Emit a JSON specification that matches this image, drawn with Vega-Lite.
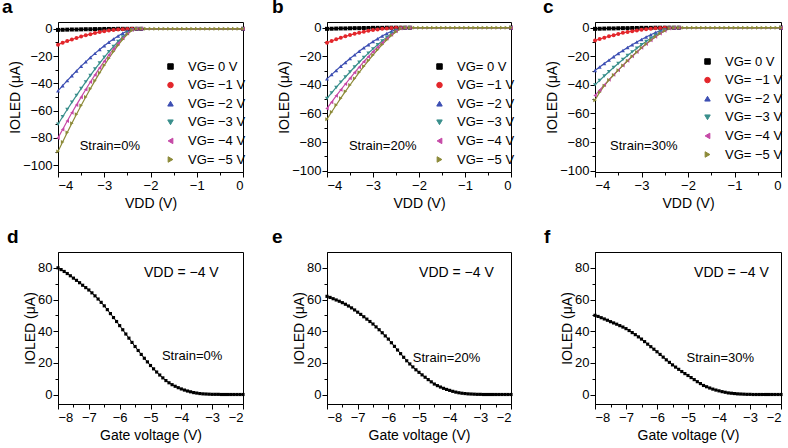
{
"$schema":"https://vega.github.io/schema/vega-lite/v6.json",
"background":"white",
"padding":{"left":1,"top":-3,"right":5,"bottom":3},
"config":{
 "font":"Liberation Sans",
 "view":{"stroke":"black","strokeWidth":1},
 "axis":{"grid":false,"domainColor":"black","tickColor":"black","labelColor":"black","titleColor":"black","labelFontSize":13,"titleFontSize":14,"titleFontWeight":"normal","tickSize":5,"labelPadding":2,"labelFont":"Liberation Sans","titleFont":"Liberation Sans","labelOverlap":false},
 "axisY":{"titlePadding":0,"labelPadding":1},
 "legend":{"labelFontSize":13,"labelFont":"Liberation Sans","labelColor":"black","symbolSize":30,"rowPadding":4.6,"labelOffset":11},
 "title":{"fontSize":19,"fontWeight":"bold","anchor":"start","frame":"group","font":"Liberation Sans","color":"black","offset":5,"baseline":"alphabetic"},
 "text":{"font":"Liberation Sans","fontSize":13,"color":"black"}
},
"datasets":{
"top":[
{"p":"a","g":0,"x":-4,"y":-0.8},{"p":"a","g":0,"x":-3.9,"y":-0.7},{"p":"a","g":0,"x":-3.8,"y":-0.6},{"p":"a","g":0,"x":-3.7,"y":-0.5},{"p":"a","g":0,"x":-3.6,"y":-0.5},{"p":"a","g":0,"x":-3.5,"y":-0.4},{"p":"a","g":0,"x":-3.4,"y":-0.3},{"p":"a","g":0,"x":-3.3,"y":-0.3},{"p":"a","g":0,"x":-3.2,"y":-0.2},{"p":"a","g":0,"x":-3.1,"y":-0.2},{"p":"a","g":0,"x":-3,"y":-0.1},{"p":"a","g":0,"x":-2.9,"y":-0.1},{"p":"a","g":0,"x":-2.8,"y":-0.1},{"p":"a","g":0,"x":-2.7,"y":0},{"p":"a","g":0,"x":-2.6,"y":0},{"p":"a","g":0,"x":-2.5,"y":0},{"p":"a","g":0,"x":-2.4,"y":0},{"p":"a","g":0,"x":-2.3,"y":0},{"p":"a","g":0,"x":-2.2,"y":0},{"p":"a","g":0,"x":0,"y":0},
{"p":"a","g":-1,"x":-4,"y":-11.6},{"p":"a","g":-1,"x":-3.9,"y":-10.2},{"p":"a","g":-1,"x":-3.8,"y":-9.0},{"p":"a","g":-1,"x":-3.7,"y":-7.8},{"p":"a","g":-1,"x":-3.6,"y":-6.7},{"p":"a","g":-1,"x":-3.5,"y":-5.6},{"p":"a","g":-1,"x":-3.4,"y":-4.7},{"p":"a","g":-1,"x":-3.3,"y":-3.9},{"p":"a","g":-1,"x":-3.2,"y":-3.1},{"p":"a","g":-1,"x":-3.1,"y":-2.4},{"p":"a","g":-1,"x":-3,"y":-1.8},{"p":"a","g":-1,"x":-2.9,"y":-1.3},{"p":"a","g":-1,"x":-2.8,"y":-0.9},{"p":"a","g":-1,"x":-2.7,"y":-0.5},{"p":"a","g":-1,"x":-2.6,"y":-0.3},{"p":"a","g":-1,"x":-2.5,"y":-0.1},{"p":"a","g":-1,"x":-2.4,"y":0},{"p":"a","g":-1,"x":-2.3,"y":0},{"p":"a","g":-1,"x":-2.2,"y":0},{"p":"a","g":-1,"x":0,"y":0},
{"p":"a","g":-2,"x":-4,"y":-45.5},{"p":"a","g":-2,"x":-3.9,"y":-41.7},{"p":"a","g":-2,"x":-3.8,"y":-38.0},{"p":"a","g":-2,"x":-3.7,"y":-34.4},{"p":"a","g":-2,"x":-3.6,"y":-30.9},{"p":"a","g":-2,"x":-3.5,"y":-27.4},{"p":"a","g":-2,"x":-3.4,"y":-24.2},{"p":"a","g":-2,"x":-3.3,"y":-21.0},{"p":"a","g":-2,"x":-3.2,"y":-18.0},{"p":"a","g":-2,"x":-3.1,"y":-15.1},{"p":"a","g":-2,"x":-3,"y":-12.4},{"p":"a","g":-2,"x":-2.9,"y":-9.8},{"p":"a","g":-2,"x":-2.8,"y":-7.4},{"p":"a","g":-2,"x":-2.7,"y":-5.2},{"p":"a","g":-2,"x":-2.6,"y":-3.2},{"p":"a","g":-2,"x":-2.5,"y":-1.6},{"p":"a","g":-2,"x":-2.4,"y":-0.4},{"p":"a","g":-2,"x":-2.3,"y":0},{"p":"a","g":-2,"x":-2.2,"y":0},{"p":"a","g":-2,"x":0,"y":0},
{"p":"a","g":-3,"x":-4,"y":-70},{"p":"a","g":-3,"x":-3.9,"y":-64.5},{"p":"a","g":-3,"x":-3.8,"y":-59.2},{"p":"a","g":-3,"x":-3.7,"y":-53.9},{"p":"a","g":-3,"x":-3.6,"y":-48.8},{"p":"a","g":-3,"x":-3.5,"y":-43.8},{"p":"a","g":-3,"x":-3.4,"y":-38.9},{"p":"a","g":-3,"x":-3.3,"y":-34.2},{"p":"a","g":-3,"x":-3.2,"y":-29.5},{"p":"a","g":-3,"x":-3.1,"y":-25.1},{"p":"a","g":-3,"x":-3,"y":-20.9},{"p":"a","g":-3,"x":-2.9,"y":-16.8},{"p":"a","g":-3,"x":-2.8,"y":-13.0},{"p":"a","g":-3,"x":-2.7,"y":-9.3},{"p":"a","g":-3,"x":-2.6,"y":-6.0},{"p":"a","g":-3,"x":-2.5,"y":-3.1},{"p":"a","g":-3,"x":-2.4,"y":-0.8},{"p":"a","g":-3,"x":-2.3,"y":0},{"p":"a","g":-3,"x":-2.2,"y":0},{"p":"a","g":-3,"x":0,"y":0},
{"p":"a","g":-4,"x":-4,"y":-80},{"p":"a","g":-4,"x":-3.9,"y":-73.8},{"p":"a","g":-4,"x":-3.8,"y":-67.6},{"p":"a","g":-4,"x":-3.7,"y":-61.6},{"p":"a","g":-4,"x":-3.6,"y":-55.8},{"p":"a","g":-4,"x":-3.5,"y":-50.1},{"p":"a","g":-4,"x":-3.4,"y":-44.5},{"p":"a","g":-4,"x":-3.3,"y":-39.0},{"p":"a","g":-4,"x":-3.2,"y":-33.8},{"p":"a","g":-4,"x":-3.1,"y":-28.7},{"p":"a","g":-4,"x":-3,"y":-23.8},{"p":"a","g":-4,"x":-2.9,"y":-19.2},{"p":"a","g":-4,"x":-2.8,"y":-14.8},{"p":"a","g":-4,"x":-2.7,"y":-10.6},{"p":"a","g":-4,"x":-2.6,"y":-6.9},{"p":"a","g":-4,"x":-2.5,"y":-3.5},{"p":"a","g":-4,"x":-2.4,"y":-0.9},{"p":"a","g":-4,"x":-2.3,"y":0},{"p":"a","g":-4,"x":-2.2,"y":0},{"p":"a","g":-4,"x":0,"y":0},
{"p":"a","g":-5,"x":-4,"y":-90},{"p":"a","g":-5,"x":-3.9,"y":-83.0},{"p":"a","g":-5,"x":-3.8,"y":-76.1},{"p":"a","g":-5,"x":-3.7,"y":-69.3},{"p":"a","g":-5,"x":-3.6,"y":-62.7},{"p":"a","g":-5,"x":-3.5,"y":-56.3},{"p":"a","g":-5,"x":-3.4,"y":-50.0},{"p":"a","g":-5,"x":-3.3,"y":-43.9},{"p":"a","g":-5,"x":-3.2,"y":-38.0},{"p":"a","g":-5,"x":-3.1,"y":-32.3},{"p":"a","g":-5,"x":-3,"y":-26.8},{"p":"a","g":-5,"x":-2.9,"y":-21.6},{"p":"a","g":-5,"x":-2.8,"y":-16.7},{"p":"a","g":-5,"x":-2.7,"y":-12.0},{"p":"a","g":-5,"x":-2.6,"y":-7.7},{"p":"a","g":-5,"x":-2.5,"y":-4.0},{"p":"a","g":-5,"x":-2.4,"y":-1.0},{"p":"a","g":-5,"x":-2.3,"y":0},{"p":"a","g":-5,"x":-2.2,"y":0},{"p":"a","g":-5,"x":-2.1,"y":0},{"p":"a","g":-5,"x":-2,"y":0},{"p":"a","g":-5,"x":-1.9,"y":0},{"p":"a","g":-5,"x":-1.8,"y":0},{"p":"a","g":-5,"x":-1.7,"y":0},{"p":"a","g":-5,"x":-1.6,"y":0},{"p":"a","g":-5,"x":-1.5,"y":0},{"p":"a","g":-5,"x":-1.4,"y":0},{"p":"a","g":-5,"x":-1.3,"y":0},{"p":"a","g":-5,"x":-1.2,"y":0},{"p":"a","g":-5,"x":-1.1,"y":0},{"p":"a","g":-5,"x":-1,"y":0},{"p":"a","g":-5,"x":-0.9,"y":0},{"p":"a","g":-5,"x":-0.8,"y":0},{"p":"a","g":-5,"x":-0.7,"y":0},{"p":"a","g":-5,"x":-0.6,"y":0},{"p":"a","g":-5,"x":-0.5,"y":0},{"p":"a","g":-5,"x":-0.4,"y":0},{"p":"a","g":-5,"x":-0.3,"y":0},{"p":"a","g":-5,"x":-0.2,"y":0},{"p":"a","g":-5,"x":-0.1,"y":0},{"p":"a","g":-5,"x":0,"y":0},
{"p":"b","g":0,"x":-4,"y":-0.8},{"p":"b","g":0,"x":-3.9,"y":-0.7},{"p":"b","g":0,"x":-3.8,"y":-0.6},{"p":"b","g":0,"x":-3.7,"y":-0.5},{"p":"b","g":0,"x":-3.6,"y":-0.5},{"p":"b","g":0,"x":-3.5,"y":-0.4},{"p":"b","g":0,"x":-3.4,"y":-0.3},{"p":"b","g":0,"x":-3.3,"y":-0.3},{"p":"b","g":0,"x":-3.2,"y":-0.2},{"p":"b","g":0,"x":-3.1,"y":-0.2},{"p":"b","g":0,"x":-3,"y":-0.1},{"p":"b","g":0,"x":-2.9,"y":-0.1},{"p":"b","g":0,"x":-2.8,"y":-0.1},{"p":"b","g":0,"x":-2.7,"y":0},{"p":"b","g":0,"x":-2.6,"y":0},{"p":"b","g":0,"x":-2.5,"y":0},{"p":"b","g":0,"x":-2.4,"y":0},{"p":"b","g":0,"x":-2.3,"y":0},{"p":"b","g":0,"x":-2.2,"y":0},{"p":"b","g":0,"x":0,"y":0},
{"p":"b","g":-1,"x":-4,"y":-10.5},{"p":"b","g":-1,"x":-3.9,"y":-9.3},{"p":"b","g":-1,"x":-3.8,"y":-8.1},{"p":"b","g":-1,"x":-3.7,"y":-7.0},{"p":"b","g":-1,"x":-3.6,"y":-6.0},{"p":"b","g":-1,"x":-3.5,"y":-5.1},{"p":"b","g":-1,"x":-3.4,"y":-4.3},{"p":"b","g":-1,"x":-3.3,"y":-3.5},{"p":"b","g":-1,"x":-3.2,"y":-2.8},{"p":"b","g":-1,"x":-3.1,"y":-2.2},{"p":"b","g":-1,"x":-3,"y":-1.6},{"p":"b","g":-1,"x":-2.9,"y":-1.2},{"p":"b","g":-1,"x":-2.8,"y":-0.8},{"p":"b","g":-1,"x":-2.7,"y":-0.5},{"p":"b","g":-1,"x":-2.6,"y":-0.2},{"p":"b","g":-1,"x":-2.5,"y":-0.1},{"p":"b","g":-1,"x":-2.4,"y":0},{"p":"b","g":-1,"x":-2.3,"y":0},{"p":"b","g":-1,"x":-2.2,"y":0},{"p":"b","g":-1,"x":0,"y":0},
{"p":"b","g":-2,"x":-4,"y":-35.8},{"p":"b","g":-2,"x":-3.9,"y":-32.8},{"p":"b","g":-2,"x":-3.8,"y":-29.9},{"p":"b","g":-2,"x":-3.7,"y":-27.0},{"p":"b","g":-2,"x":-3.6,"y":-24.3},{"p":"b","g":-2,"x":-3.5,"y":-21.6},{"p":"b","g":-2,"x":-3.4,"y":-19.0},{"p":"b","g":-2,"x":-3.3,"y":-16.5},{"p":"b","g":-2,"x":-3.2,"y":-14.1},{"p":"b","g":-2,"x":-3.1,"y":-11.9},{"p":"b","g":-2,"x":-3,"y":-9.7},{"p":"b","g":-2,"x":-2.9,"y":-7.7},{"p":"b","g":-2,"x":-2.8,"y":-5.8},{"p":"b","g":-2,"x":-2.7,"y":-4.1},{"p":"b","g":-2,"x":-2.6,"y":-2.5},{"p":"b","g":-2,"x":-2.5,"y":-1.3},{"p":"b","g":-2,"x":-2.4,"y":-0.3},{"p":"b","g":-2,"x":-2.3,"y":0},{"p":"b","g":-2,"x":-2.2,"y":0},{"p":"b","g":-2,"x":0,"y":0},
{"p":"b","g":-3,"x":-4,"y":-49.5},{"p":"b","g":-3,"x":-3.9,"y":-45.6},{"p":"b","g":-3,"x":-3.8,"y":-41.8},{"p":"b","g":-3,"x":-3.7,"y":-38.1},{"p":"b","g":-3,"x":-3.6,"y":-34.5},{"p":"b","g":-3,"x":-3.5,"y":-31.0},{"p":"b","g":-3,"x":-3.4,"y":-27.5},{"p":"b","g":-3,"x":-3.3,"y":-24.2},{"p":"b","g":-3,"x":-3.2,"y":-20.9},{"p":"b","g":-3,"x":-3.1,"y":-17.8},{"p":"b","g":-3,"x":-3,"y":-14.8},{"p":"b","g":-3,"x":-2.9,"y":-11.9},{"p":"b","g":-3,"x":-2.8,"y":-9.2},{"p":"b","g":-3,"x":-2.7,"y":-6.6},{"p":"b","g":-3,"x":-2.6,"y":-4.3},{"p":"b","g":-3,"x":-2.5,"y":-2.2},{"p":"b","g":-3,"x":-2.4,"y":-0.5},{"p":"b","g":-3,"x":-2.3,"y":0},{"p":"b","g":-3,"x":-2.2,"y":0},{"p":"b","g":-3,"x":0,"y":0},
{"p":"b","g":-4,"x":-4,"y":-56.5},{"p":"b","g":-4,"x":-3.9,"y":-52.1},{"p":"b","g":-4,"x":-3.8,"y":-47.7},{"p":"b","g":-4,"x":-3.7,"y":-43.5},{"p":"b","g":-4,"x":-3.6,"y":-39.4},{"p":"b","g":-4,"x":-3.5,"y":-35.4},{"p":"b","g":-4,"x":-3.4,"y":-31.4},{"p":"b","g":-4,"x":-3.3,"y":-27.6},{"p":"b","g":-4,"x":-3.2,"y":-23.8},{"p":"b","g":-4,"x":-3.1,"y":-20.3},{"p":"b","g":-4,"x":-3,"y":-16.8},{"p":"b","g":-4,"x":-2.9,"y":-13.6},{"p":"b","g":-4,"x":-2.8,"y":-10.5},{"p":"b","g":-4,"x":-2.7,"y":-7.5},{"p":"b","g":-4,"x":-2.6,"y":-4.9},{"p":"b","g":-4,"x":-2.5,"y":-2.5},{"p":"b","g":-4,"x":-2.4,"y":-0.6},{"p":"b","g":-4,"x":-2.3,"y":0},{"p":"b","g":-4,"x":-2.2,"y":0},{"p":"b","g":-4,"x":0,"y":0},
{"p":"b","g":-5,"x":-4,"y":-64},{"p":"b","g":-5,"x":-3.9,"y":-59.0},{"p":"b","g":-5,"x":-3.8,"y":-54.1},{"p":"b","g":-5,"x":-3.7,"y":-49.3},{"p":"b","g":-5,"x":-3.6,"y":-44.6},{"p":"b","g":-5,"x":-3.5,"y":-40.1},{"p":"b","g":-5,"x":-3.4,"y":-35.6},{"p":"b","g":-5,"x":-3.3,"y":-31.2},{"p":"b","g":-5,"x":-3.2,"y":-27.0},{"p":"b","g":-5,"x":-3.1,"y":-23.0},{"p":"b","g":-5,"x":-3,"y":-19.1},{"p":"b","g":-5,"x":-2.9,"y":-15.4},{"p":"b","g":-5,"x":-2.8,"y":-11.8},{"p":"b","g":-5,"x":-2.7,"y":-8.5},{"p":"b","g":-5,"x":-2.6,"y":-5.5},{"p":"b","g":-5,"x":-2.5,"y":-2.8},{"p":"b","g":-5,"x":-2.4,"y":-0.7},{"p":"b","g":-5,"x":-2.3,"y":0},{"p":"b","g":-5,"x":-2.2,"y":0},{"p":"b","g":-5,"x":-2.1,"y":0},{"p":"b","g":-5,"x":-2,"y":0},{"p":"b","g":-5,"x":-1.9,"y":0},{"p":"b","g":-5,"x":-1.8,"y":0},{"p":"b","g":-5,"x":-1.7,"y":0},{"p":"b","g":-5,"x":-1.6,"y":0},{"p":"b","g":-5,"x":-1.5,"y":0},{"p":"b","g":-5,"x":-1.4,"y":0},{"p":"b","g":-5,"x":-1.3,"y":0},{"p":"b","g":-5,"x":-1.2,"y":0},{"p":"b","g":-5,"x":-1.1,"y":0},{"p":"b","g":-5,"x":-1,"y":0},{"p":"b","g":-5,"x":-0.9,"y":0},{"p":"b","g":-5,"x":-0.8,"y":0},{"p":"b","g":-5,"x":-0.7,"y":0},{"p":"b","g":-5,"x":-0.6,"y":0},{"p":"b","g":-5,"x":-0.5,"y":0},{"p":"b","g":-5,"x":-0.4,"y":0},{"p":"b","g":-5,"x":-0.3,"y":0},{"p":"b","g":-5,"x":-0.2,"y":0},{"p":"b","g":-5,"x":-0.1,"y":0},{"p":"b","g":-5,"x":0,"y":0},
{"p":"c","g":0,"x":-4,"y":-0.8},{"p":"c","g":0,"x":-3.9,"y":-0.7},{"p":"c","g":0,"x":-3.8,"y":-0.6},{"p":"c","g":0,"x":-3.7,"y":-0.5},{"p":"c","g":0,"x":-3.6,"y":-0.5},{"p":"c","g":0,"x":-3.5,"y":-0.4},{"p":"c","g":0,"x":-3.4,"y":-0.3},{"p":"c","g":0,"x":-3.3,"y":-0.3},{"p":"c","g":0,"x":-3.2,"y":-0.2},{"p":"c","g":0,"x":-3.1,"y":-0.2},{"p":"c","g":0,"x":-3,"y":-0.1},{"p":"c","g":0,"x":-2.9,"y":-0.1},{"p":"c","g":0,"x":-2.8,"y":-0.1},{"p":"c","g":0,"x":-2.7,"y":0},{"p":"c","g":0,"x":-2.6,"y":0},{"p":"c","g":0,"x":-2.5,"y":0},{"p":"c","g":0,"x":-2.4,"y":0},{"p":"c","g":0,"x":-2.3,"y":0},{"p":"c","g":0,"x":-2.2,"y":0},{"p":"c","g":0,"x":0,"y":0},
{"p":"c","g":-1,"x":-4,"y":-9.0},{"p":"c","g":-1,"x":-3.9,"y":-7.9},{"p":"c","g":-1,"x":-3.8,"y":-7.0},{"p":"c","g":-1,"x":-3.7,"y":-6.0},{"p":"c","g":-1,"x":-3.6,"y":-5.2},{"p":"c","g":-1,"x":-3.5,"y":-4.4},{"p":"c","g":-1,"x":-3.4,"y":-3.6},{"p":"c","g":-1,"x":-3.3,"y":-3.0},{"p":"c","g":-1,"x":-3.2,"y":-2.4},{"p":"c","g":-1,"x":-3.1,"y":-1.9},{"p":"c","g":-1,"x":-3,"y":-1.4},{"p":"c","g":-1,"x":-2.9,"y":-1.0},{"p":"c","g":-1,"x":-2.8,"y":-0.7},{"p":"c","g":-1,"x":-2.7,"y":-0.4},{"p":"c","g":-1,"x":-2.6,"y":-0.2},{"p":"c","g":-1,"x":-2.5,"y":-0.1},{"p":"c","g":-1,"x":-2.4,"y":0},{"p":"c","g":-1,"x":-2.3,"y":0},{"p":"c","g":-1,"x":-2.2,"y":0},{"p":"c","g":-1,"x":0,"y":0},
{"p":"c","g":-2,"x":-4,"y":-30},{"p":"c","g":-2,"x":-3.9,"y":-27.5},{"p":"c","g":-2,"x":-3.8,"y":-25.1},{"p":"c","g":-2,"x":-3.7,"y":-22.7},{"p":"c","g":-2,"x":-3.6,"y":-20.3},{"p":"c","g":-2,"x":-3.5,"y":-18.1},{"p":"c","g":-2,"x":-3.4,"y":-15.9},{"p":"c","g":-2,"x":-3.3,"y":-13.9},{"p":"c","g":-2,"x":-3.2,"y":-11.9},{"p":"c","g":-2,"x":-3.1,"y":-10.0},{"p":"c","g":-2,"x":-3,"y":-8.2},{"p":"c","g":-2,"x":-2.9,"y":-6.5},{"p":"c","g":-2,"x":-2.8,"y":-4.9},{"p":"c","g":-2,"x":-2.7,"y":-3.4},{"p":"c","g":-2,"x":-2.6,"y":-2.1},{"p":"c","g":-2,"x":-2.5,"y":-1.1},{"p":"c","g":-2,"x":-2.4,"y":-0.2},{"p":"c","g":-2,"x":-2.3,"y":0},{"p":"c","g":-2,"x":-2.2,"y":0},{"p":"c","g":-2,"x":0,"y":0},
{"p":"c","g":-3,"x":-4,"y":-40},{"p":"c","g":-3,"x":-3.9,"y":-36.9},{"p":"c","g":-3,"x":-3.8,"y":-33.8},{"p":"c","g":-3,"x":-3.7,"y":-30.8},{"p":"c","g":-3,"x":-3.6,"y":-27.9},{"p":"c","g":-3,"x":-3.5,"y":-25.0},{"p":"c","g":-3,"x":-3.4,"y":-22.2},{"p":"c","g":-3,"x":-3.3,"y":-19.5},{"p":"c","g":-3,"x":-3.2,"y":-16.9},{"p":"c","g":-3,"x":-3.1,"y":-14.4},{"p":"c","g":-3,"x":-3,"y":-11.9},{"p":"c","g":-3,"x":-2.9,"y":-9.6},{"p":"c","g":-3,"x":-2.8,"y":-7.4},{"p":"c","g":-3,"x":-2.7,"y":-5.3},{"p":"c","g":-3,"x":-2.6,"y":-3.4},{"p":"c","g":-3,"x":-2.5,"y":-1.8},{"p":"c","g":-3,"x":-2.4,"y":-0.4},{"p":"c","g":-3,"x":-2.3,"y":0},{"p":"c","g":-3,"x":-2.2,"y":0},{"p":"c","g":-3,"x":0,"y":0},
{"p":"c","g":-4,"x":-4,"y":-47.4},{"p":"c","g":-4,"x":-3.9,"y":-43.7},{"p":"c","g":-4,"x":-3.8,"y":-40.1},{"p":"c","g":-4,"x":-3.7,"y":-36.5},{"p":"c","g":-4,"x":-3.6,"y":-33.0},{"p":"c","g":-4,"x":-3.5,"y":-29.7},{"p":"c","g":-4,"x":-3.4,"y":-26.4},{"p":"c","g":-4,"x":-3.3,"y":-23.1},{"p":"c","g":-4,"x":-3.2,"y":-20.0},{"p":"c","g":-4,"x":-3.1,"y":-17.0},{"p":"c","g":-4,"x":-3,"y":-14.1},{"p":"c","g":-4,"x":-2.9,"y":-11.4},{"p":"c","g":-4,"x":-2.8,"y":-8.8},{"p":"c","g":-4,"x":-2.7,"y":-6.3},{"p":"c","g":-4,"x":-2.6,"y":-4.1},{"p":"c","g":-4,"x":-2.5,"y":-2.1},{"p":"c","g":-4,"x":-2.4,"y":-0.5},{"p":"c","g":-4,"x":-2.3,"y":0},{"p":"c","g":-4,"x":-2.2,"y":0},{"p":"c","g":-4,"x":0,"y":0},
{"p":"c","g":-5,"x":-4,"y":-50.7},{"p":"c","g":-5,"x":-3.9,"y":-45.2},{"p":"c","g":-5,"x":-3.8,"y":-40.6},{"p":"c","g":-5,"x":-3.7,"y":-36.6},{"p":"c","g":-5,"x":-3.6,"y":-33.1},{"p":"c","g":-5,"x":-3.5,"y":-29.7},{"p":"c","g":-5,"x":-3.4,"y":-26.4},{"p":"c","g":-5,"x":-3.3,"y":-23.1},{"p":"c","g":-5,"x":-3.2,"y":-20.0},{"p":"c","g":-5,"x":-3.1,"y":-17.0},{"p":"c","g":-5,"x":-3,"y":-14.1},{"p":"c","g":-5,"x":-2.9,"y":-11.4},{"p":"c","g":-5,"x":-2.8,"y":-8.8},{"p":"c","g":-5,"x":-2.7,"y":-6.3},{"p":"c","g":-5,"x":-2.6,"y":-4.1},{"p":"c","g":-5,"x":-2.5,"y":-2.1},{"p":"c","g":-5,"x":-2.4,"y":-0.5},{"p":"c","g":-5,"x":-2.3,"y":0},{"p":"c","g":-5,"x":-2.2,"y":0},{"p":"c","g":-5,"x":-2.1,"y":0},{"p":"c","g":-5,"x":-2,"y":0},{"p":"c","g":-5,"x":-1.9,"y":0},{"p":"c","g":-5,"x":-1.8,"y":0},{"p":"c","g":-5,"x":-1.7,"y":0},{"p":"c","g":-5,"x":-1.6,"y":0},{"p":"c","g":-5,"x":-1.5,"y":0},{"p":"c","g":-5,"x":-1.4,"y":0},{"p":"c","g":-5,"x":-1.3,"y":0},{"p":"c","g":-5,"x":-1.2,"y":0},{"p":"c","g":-5,"x":-1.1,"y":0},{"p":"c","g":-5,"x":-1,"y":0},{"p":"c","g":-5,"x":-0.9,"y":0},{"p":"c","g":-5,"x":-0.8,"y":0},{"p":"c","g":-5,"x":-0.7,"y":0},{"p":"c","g":-5,"x":-0.6,"y":0},{"p":"c","g":-5,"x":-0.5,"y":0},{"p":"c","g":-5,"x":-0.4,"y":0},{"p":"c","g":-5,"x":-0.3,"y":0},{"p":"c","g":-5,"x":-0.2,"y":0},{"p":"c","g":-5,"x":-0.1,"y":0},{"p":"c","g":-5,"x":0,"y":0}
],
"bot":[
{"p":"d","x":-8,"y":80},{"p":"d","x":-7.9,"y":78.9},{"p":"d","x":-7.8,"y":77.7},{"p":"d","x":-7.7,"y":76.4},{"p":"d","x":-7.6,"y":75.0},{"p":"d","x":-7.5,"y":73.5},{"p":"d","x":-7.4,"y":72.1},{"p":"d","x":-7.3,"y":70.6},{"p":"d","x":-7.2,"y":69.0},{"p":"d","x":-7.1,"y":67.5},{"p":"d","x":-7,"y":66.0},{"p":"d","x":-6.9,"y":64.2},{"p":"d","x":-6.8,"y":62.3},{"p":"d","x":-6.7,"y":60.3},{"p":"d","x":-6.6,"y":58.2},{"p":"d","x":-6.5,"y":56.0},{"p":"d","x":-6.4,"y":53.6},{"p":"d","x":-6.3,"y":51.1},{"p":"d","x":-6.2,"y":48.6},{"p":"d","x":-6.1,"y":46.1},{"p":"d","x":-6,"y":43.5},{"p":"d","x":-5.9,"y":40.9},{"p":"d","x":-5.8,"y":38.2},{"p":"d","x":-5.7,"y":35.6},{"p":"d","x":-5.6,"y":32.9},{"p":"d","x":-5.5,"y":30.3},{"p":"d","x":-5.4,"y":27.8},{"p":"d","x":-5.3,"y":25.3},{"p":"d","x":-5.2,"y":22.9},{"p":"d","x":-5.1,"y":20.6},{"p":"d","x":-5,"y":18.3},{"p":"d","x":-4.9,"y":16.2},{"p":"d","x":-4.8,"y":14.2},{"p":"d","x":-4.7,"y":12.3},{"p":"d","x":-4.6,"y":10.5},{"p":"d","x":-4.5,"y":8.8},{"p":"d","x":-4.4,"y":7.4},{"p":"d","x":-4.3,"y":6.2},{"p":"d","x":-4.2,"y":5.2},{"p":"d","x":-4.1,"y":4.3},{"p":"d","x":-4,"y":3.5},{"p":"d","x":-3.9,"y":2.8},{"p":"d","x":-3.8,"y":2.2},{"p":"d","x":-3.7,"y":1.7},{"p":"d","x":-3.6,"y":1.2},{"p":"d","x":-3.5,"y":0.9},{"p":"d","x":-3.4,"y":0.6},{"p":"d","x":-3.3,"y":0.4},{"p":"d","x":-3.2,"y":0.3},{"p":"d","x":-3.1,"y":0.2},{"p":"d","x":-3,"y":0.1},{"p":"d","x":-2.9,"y":0.1},{"p":"d","x":-2.8,"y":0.1},{"p":"d","x":-2.7,"y":0},{"p":"d","x":-2.6,"y":0},{"p":"d","x":-2.5,"y":0},{"p":"d","x":-2.4,"y":0},{"p":"d","x":-2.3,"y":0},{"p":"d","x":-2.2,"y":0},{"p":"d","x":-2.1,"y":0},{"p":"d","x":-2,"y":0},
{"p":"e","x":-8,"y":62.0},{"p":"e","x":-7.9,"y":61.3},{"p":"e","x":-7.8,"y":60.5},{"p":"e","x":-7.7,"y":59.7},{"p":"e","x":-7.6,"y":58.9},{"p":"e","x":-7.5,"y":58.0},{"p":"e","x":-7.4,"y":57.0},{"p":"e","x":-7.3,"y":55.9},{"p":"e","x":-7.2,"y":54.7},{"p":"e","x":-7.1,"y":53.4},{"p":"e","x":-7,"y":52.0},{"p":"e","x":-6.9,"y":50.6},{"p":"e","x":-6.8,"y":49.1},{"p":"e","x":-6.7,"y":47.6},{"p":"e","x":-6.6,"y":46.1},{"p":"e","x":-6.5,"y":44.5},{"p":"e","x":-6.4,"y":42.7},{"p":"e","x":-6.3,"y":40.9},{"p":"e","x":-6.2,"y":39.0},{"p":"e","x":-6.1,"y":37.0},{"p":"e","x":-6,"y":35.0},{"p":"e","x":-5.9,"y":32.7},{"p":"e","x":-5.8,"y":30.4},{"p":"e","x":-5.7,"y":28.1},{"p":"e","x":-5.6,"y":25.8},{"p":"e","x":-5.5,"y":23.5},{"p":"e","x":-5.4,"y":21.3},{"p":"e","x":-5.3,"y":19.3},{"p":"e","x":-5.2,"y":17.4},{"p":"e","x":-5.1,"y":15.6},{"p":"e","x":-5,"y":14.0},{"p":"e","x":-4.9,"y":12.4},{"p":"e","x":-4.8,"y":10.9},{"p":"e","x":-4.7,"y":9.4},{"p":"e","x":-4.6,"y":8.0},{"p":"e","x":-4.5,"y":6.6},{"p":"e","x":-4.4,"y":5.6},{"p":"e","x":-4.3,"y":4.7},{"p":"e","x":-4.2,"y":3.9},{"p":"e","x":-4.1,"y":3.2},{"p":"e","x":-4,"y":2.6},{"p":"e","x":-3.9,"y":2.0},{"p":"e","x":-3.8,"y":1.5},{"p":"e","x":-3.7,"y":1.1},{"p":"e","x":-3.6,"y":0.8},{"p":"e","x":-3.5,"y":0.6},{"p":"e","x":-3.4,"y":0.4},{"p":"e","x":-3.3,"y":0.3},{"p":"e","x":-3.2,"y":0.2},{"p":"e","x":-3.1,"y":0.1},{"p":"e","x":-3,"y":0.1},{"p":"e","x":-2.9,"y":0},{"p":"e","x":-2.8,"y":0},{"p":"e","x":-2.7,"y":0},{"p":"e","x":-2.6,"y":0},{"p":"e","x":-2.5,"y":0},{"p":"e","x":-2.4,"y":0},{"p":"e","x":-2.3,"y":0},{"p":"e","x":-2.2,"y":0},{"p":"e","x":-2.1,"y":0},{"p":"e","x":-2,"y":0},
{"p":"f","x":-8,"y":50.0},{"p":"f","x":-7.9,"y":49.3},{"p":"f","x":-7.8,"y":48.5},{"p":"f","x":-7.7,"y":47.7},{"p":"f","x":-7.6,"y":46.9},{"p":"f","x":-7.5,"y":46.0},{"p":"f","x":-7.4,"y":45.2},{"p":"f","x":-7.3,"y":44.4},{"p":"f","x":-7.2,"y":43.5},{"p":"f","x":-7.1,"y":42.6},{"p":"f","x":-7,"y":41.6},{"p":"f","x":-6.9,"y":40.4},{"p":"f","x":-6.8,"y":39.1},{"p":"f","x":-6.7,"y":37.8},{"p":"f","x":-6.6,"y":36.4},{"p":"f","x":-6.5,"y":35.0},{"p":"f","x":-6.4,"y":33.4},{"p":"f","x":-6.3,"y":31.8},{"p":"f","x":-6.2,"y":30.2},{"p":"f","x":-6.1,"y":28.6},{"p":"f","x":-6,"y":27.0},{"p":"f","x":-5.9,"y":25.3},{"p":"f","x":-5.8,"y":23.6},{"p":"f","x":-5.7,"y":21.9},{"p":"f","x":-5.6,"y":20.3},{"p":"f","x":-5.5,"y":18.7},{"p":"f","x":-5.4,"y":17.3},{"p":"f","x":-5.3,"y":15.9},{"p":"f","x":-5.2,"y":14.5},{"p":"f","x":-5.1,"y":13.2},{"p":"f","x":-5,"y":12.0},{"p":"f","x":-4.9,"y":10.7},{"p":"f","x":-4.8,"y":9.4},{"p":"f","x":-4.7,"y":8.1},{"p":"f","x":-4.6,"y":6.9},{"p":"f","x":-4.5,"y":5.7},{"p":"f","x":-4.4,"y":4.9},{"p":"f","x":-4.3,"y":4.1},{"p":"f","x":-4.2,"y":3.4},{"p":"f","x":-4.1,"y":2.8},{"p":"f","x":-4,"y":2.3},{"p":"f","x":-3.9,"y":1.8},{"p":"f","x":-3.8,"y":1.4},{"p":"f","x":-3.7,"y":1.0},{"p":"f","x":-3.6,"y":0.8},{"p":"f","x":-3.5,"y":0.6},{"p":"f","x":-3.4,"y":0.4},{"p":"f","x":-3.3,"y":0.3},{"p":"f","x":-3.2,"y":0.2},{"p":"f","x":-3.1,"y":0.1},{"p":"f","x":-3,"y":0.1},{"p":"f","x":-2.9,"y":0},{"p":"f","x":-2.8,"y":0},{"p":"f","x":-2.7,"y":0},{"p":"f","x":-2.6,"y":0},{"p":"f","x":-2.5,"y":0},{"p":"f","x":-2.4,"y":0},{"p":"f","x":-2.3,"y":0},{"p":"f","x":-2.2,"y":0},{"p":"f","x":-2.1,"y":0},{"p":"f","x":-2,"y":0}
]
},
"columns":3,
"bounds":"flush",
"spacing":{"row":80,"column":84},
"resolve":{"scale":{"x":"independent","y":"independent","color":"independent","shape":"independent"}},
"concat":[
  {"width":185,"height":150,"title":{"text":"a","dx":-56},
   "resolve":{"axis":{"x":"independent","y":"independent"}},
   "layer":[
    {"data":{"name":"top"},"transform":[{"filter":"datum.p=='a'"}],"mark":{"type":"line","strokeWidth":1.2},
     "encoding":{"x":{"field":"x","type":"quantitative","scale":{"domain":[-4,0],"nice":false,"zero":false},"axis":{"title":"VDD (V)","values":[-4,-3,-2,-1,0],"format":"d"}},
      "y":{"field":"y","type":"quantitative","scale":{"domain":[-105,5],"nice":false,"zero":false},"axis":{"title":"IOLED (μA)","values":[-100,-80,-60,-40,-20,0]}},
      "color":{"field":"g","type":"nominal","scale":{"domain":[0,-1,-2,-3,-4,-5],"range":["#000000","#e3262b","#3d4fb3","#3a8f8c","#c548a6","#8c8a38"]},"legend":{"title":null,"orient":"none","legendX":106,"legendY":38,"labelExpr":"'VG= ' + (datum.value == 0 ? '0' : '−' + abs(datum.value)) + ' V'","encode":{"symbols":{"update":{"shape":{"signal":"['M-3,0H3M-0.85,-0.85H0.85V0.85H-0.85Z','M-3,0H3M-1,0A1,1 0 1,0 1,0A1,1 0 1,0 -1,0Z','M-3,0H3M0,-1.1L1.1,0.8H-1.1Z','M-3,0H3M0,1.1L1.1,-0.8H-1.1Z','M-3,0H3M-1.1,0L0.8,-1.1V1.1Z','M-3,0H3M1.1,0L-0.8,-1.1V1.1Z'][-datum.value]"},"stroke":{"signal":"['#000000','#e3262b','#3d4fb3','#3a8f8c','#c548a6','#8c8a38'][-datum.value]"},"strokeWidth":{"value":1}}}}}}}},
    {"data":{"name":"top"},"transform":[{"filter":"datum.p=='a'"}],"mark":{"type":"point","filled":true,"size":16,"opacity":1},
     "encoding":{"x":{"field":"x","type":"quantitative","axis":{"orient":"bottom","values":[-3.5,-2.5,-1.5,-0.5],"labels":false,"domain":false,"tickSize":3,"title":null}},
      "y":{"field":"y","type":"quantitative","axis":{"orient":"left","values":[-90,-70,-50,-30,-10],"labels":false,"domain":false,"tickSize":3,"title":null}},
      "color":{"field":"g","type":"nominal","legend":{"title":null,"orient":"none","legendX":106,"legendY":38,"labelExpr":"'VG= ' + (datum.value == 0 ? '0' : '−' + abs(datum.value)) + ' V'","encode":{"symbols":{"update":{"shape":{"signal":"['M-3,0H3M-0.85,-0.85H0.85V0.85H-0.85Z','M-3,0H3M-1,0A1,1 0 1,0 1,0A1,1 0 1,0 -1,0Z','M-3,0H3M0,-1.1L1.1,0.8H-1.1Z','M-3,0H3M0,1.1L1.1,-0.8H-1.1Z','M-3,0H3M-1.1,0L0.8,-1.1V1.1Z','M-3,0H3M1.1,0L-0.8,-1.1V1.1Z'][-datum.value]"},"stroke":{"signal":"['#000000','#e3262b','#3d4fb3','#3a8f8c','#c548a6','#8c8a38'][-datum.value]"},"strokeWidth":{"value":1}}}}}},
      "shape":{"field":"g","type":"nominal","scale":{"domain":[0,-1,-2,-3,-4,-5],"range":["square","circle","triangle-up","triangle-down","triangle-left","triangle-right"]}}}},
    {"data":{"values":[{}]},"mark":{"type":"text","text":"Strain=0%","fontSize":13},"encoding":{"x":{"datum":-2.88,"axis":null},"y":{"datum":-86,"axis":null}}}
   ]},
  {"width":184,"height":150,"title":{"text":"b","dx":-55},
   "resolve":{"axis":{"x":"independent","y":"independent"}},
   "layer":[
    {"data":{"name":"top"},"transform":[{"filter":"datum.p=='b'"}],"mark":{"type":"line","strokeWidth":1.2},
     "encoding":{"x":{"field":"x","type":"quantitative","scale":{"domain":[-4,0],"nice":false,"zero":false},"axis":{"title":"VDD (V)","values":[-4,-3,-2,-1,0],"format":"d"}},
      "y":{"field":"y","type":"quantitative","scale":{"domain":[-101,4],"nice":false,"zero":false},"axis":{"title":"IOLED (μA)","values":[-100,-80,-60,-40,-20,0]}},
      "color":{"field":"g","type":"nominal","scale":{"domain":[0,-1,-2,-3,-4,-5],"range":["#000000","#e3262b","#3d4fb3","#3a8f8c","#c548a6","#8c8a38"]},"legend":{"title":null,"orient":"none","legendX":106,"legendY":38,"labelExpr":"'VG= ' + (datum.value == 0 ? '0' : '−' + abs(datum.value)) + ' V'","encode":{"symbols":{"update":{"shape":{"signal":"['M-3,0H3M-0.85,-0.85H0.85V0.85H-0.85Z','M-3,0H3M-1,0A1,1 0 1,0 1,0A1,1 0 1,0 -1,0Z','M-3,0H3M0,-1.1L1.1,0.8H-1.1Z','M-3,0H3M0,1.1L1.1,-0.8H-1.1Z','M-3,0H3M-1.1,0L0.8,-1.1V1.1Z','M-3,0H3M1.1,0L-0.8,-1.1V1.1Z'][-datum.value]"},"stroke":{"signal":"['#000000','#e3262b','#3d4fb3','#3a8f8c','#c548a6','#8c8a38'][-datum.value]"},"strokeWidth":{"value":1}}}}}}}},
    {"data":{"name":"top"},"transform":[{"filter":"datum.p=='b'"}],"mark":{"type":"point","filled":true,"size":16,"opacity":1},
     "encoding":{"x":{"field":"x","type":"quantitative","axis":{"orient":"bottom","values":[-3.5,-2.5,-1.5,-0.5],"labels":false,"domain":false,"tickSize":3,"title":null}},
      "y":{"field":"y","type":"quantitative","axis":{"orient":"left","values":[-90,-70,-50,-30,-10],"labels":false,"domain":false,"tickSize":3,"title":null}},
      "color":{"field":"g","type":"nominal","legend":{"title":null,"orient":"none","legendX":106,"legendY":38,"labelExpr":"'VG= ' + (datum.value == 0 ? '0' : '−' + abs(datum.value)) + ' V'","encode":{"symbols":{"update":{"shape":{"signal":"['M-3,0H3M-0.85,-0.85H0.85V0.85H-0.85Z','M-3,0H3M-1,0A1,1 0 1,0 1,0A1,1 0 1,0 -1,0Z','M-3,0H3M0,-1.1L1.1,0.8H-1.1Z','M-3,0H3M0,1.1L1.1,-0.8H-1.1Z','M-3,0H3M-1.1,0L0.8,-1.1V1.1Z','M-3,0H3M1.1,0L-0.8,-1.1V1.1Z'][-datum.value]"},"stroke":{"signal":"['#000000','#e3262b','#3d4fb3','#3a8f8c','#c548a6','#8c8a38'][-datum.value]"},"strokeWidth":{"value":1}}}}}},
      "shape":{"field":"g","type":"nominal","scale":{"domain":[0,-1,-2,-3,-4,-5],"range":["square","circle","triangle-up","triangle-down","triangle-left","triangle-right"]}}}},
    {"data":{"values":[{}]},"mark":{"type":"text","text":"Strain=20%","fontSize":13},"encoding":{"x":{"datum":-2.79,"axis":null},"y":{"datum":-83,"axis":null}}}
   ]},
  {"width":186,"height":150,"title":{"text":"c","dx":-52},
   "resolve":{"axis":{"x":"independent","y":"independent"}},
   "layer":[
    {"data":{"name":"top"},"transform":[{"filter":"datum.p=='c'"}],"mark":{"type":"line","strokeWidth":1.2},
     "encoding":{"x":{"field":"x","type":"quantitative","scale":{"domain":[-4,0],"nice":false,"zero":false},"axis":{"title":"VDD (V)","values":[-4,-3,-2,-1,0],"format":"d"}},
      "y":{"field":"y","type":"quantitative","scale":{"domain":[-101,4],"nice":false,"zero":false},"axis":{"title":"IOLED (μA)","values":[-100,-80,-60,-40,-20,0]}},
      "color":{"field":"g","type":"nominal","scale":{"domain":[0,-1,-2,-3,-4,-5],"range":["#000000","#e3262b","#3d4fb3","#3a8f8c","#c548a6","#8c8a38"]},"legend":{"title":null,"orient":"none","legendX":106,"legendY":33,"labelExpr":"'VG= ' + (datum.value == 0 ? '0' : '−' + abs(datum.value)) + ' V'","encode":{"symbols":{"update":{"shape":{"signal":"['M-3,0H3M-0.85,-0.85H0.85V0.85H-0.85Z','M-3,0H3M-1,0A1,1 0 1,0 1,0A1,1 0 1,0 -1,0Z','M-3,0H3M0,-1.1L1.1,0.8H-1.1Z','M-3,0H3M0,1.1L1.1,-0.8H-1.1Z','M-3,0H3M-1.1,0L0.8,-1.1V1.1Z','M-3,0H3M1.1,0L-0.8,-1.1V1.1Z'][-datum.value]"},"stroke":{"signal":"['#000000','#e3262b','#3d4fb3','#3a8f8c','#c548a6','#8c8a38'][-datum.value]"},"strokeWidth":{"value":1}}}}}}}},
    {"data":{"name":"top"},"transform":[{"filter":"datum.p=='c'"}],"mark":{"type":"point","filled":true,"size":16,"opacity":1},
     "encoding":{"x":{"field":"x","type":"quantitative","axis":{"orient":"bottom","values":[-3.5,-2.5,-1.5,-0.5],"labels":false,"domain":false,"tickSize":3,"title":null}},
      "y":{"field":"y","type":"quantitative","axis":{"orient":"left","values":[-90,-70,-50,-30,-10],"labels":false,"domain":false,"tickSize":3,"title":null}},
      "color":{"field":"g","type":"nominal","legend":{"title":null,"orient":"none","legendX":106,"legendY":33,"labelExpr":"'VG= ' + (datum.value == 0 ? '0' : '−' + abs(datum.value)) + ' V'","encode":{"symbols":{"update":{"shape":{"signal":"['M-3,0H3M-0.85,-0.85H0.85V0.85H-0.85Z','M-3,0H3M-1,0A1,1 0 1,0 1,0A1,1 0 1,0 -1,0Z','M-3,0H3M0,-1.1L1.1,0.8H-1.1Z','M-3,0H3M0,1.1L1.1,-0.8H-1.1Z','M-3,0H3M-1.1,0L0.8,-1.1V1.1Z','M-3,0H3M1.1,0L-0.8,-1.1V1.1Z'][-datum.value]"},"stroke":{"signal":"['#000000','#e3262b','#3d4fb3','#3a8f8c','#c548a6','#8c8a38'][-datum.value]"},"strokeWidth":{"value":1}}}}}},
      "shape":{"field":"g","type":"nominal","scale":{"domain":[0,-1,-2,-3,-4,-5],"range":["square","circle","triangle-up","triangle-down","triangle-left","triangle-right"]}}}},
    {"data":{"values":[{}]},"mark":{"type":"text","text":"Strain=30%","fontSize":13},"encoding":{"x":{"datum":-2.95,"axis":null},"y":{"datum":-83,"axis":null}}}
   ]},
  {"width":185,"height":152,"title":{"text":"d","dx":-51},
   "resolve":{"axis":{"x":"independent","y":"independent"}},
   "layer":[
    {"data":{"name":"bot"},"transform":[{"filter":"datum.p=='d'"}],"mark":{"type":"line","color":"black","strokeWidth":1},
     "encoding":{"x":{"field":"x","type":"quantitative","scale":{"domain":[-8,-2],"nice":false,"zero":false},"axis":{"title":"Gate voltage (V)","values":[-8,-7,-6,-5,-4,-3,-2],"format":"d"}},
      "y":{"field":"y","type":"quantitative","scale":{"domain":[-6,90],"nice":false,"zero":false},"axis":{"title":"IOLED (μA)","values":[0,20,40,60,80]}}}},
    {"data":{"name":"bot"},"transform":[{"filter":"datum.p=='d'"}],"mark":{"type":"square","color":"black","size":10,"opacity":1},
     "encoding":{"x":{"field":"x","type":"quantitative","axis":{"orient":"bottom","values":[-7.5,-6.5,-5.5,-4.5,-3.5,-2.5],"labels":false,"domain":false,"tickSize":3,"title":null}},
      "y":{"field":"y","type":"quantitative","axis":{"orient":"left","values":[10,30,50,70],"labels":false,"domain":false,"tickSize":3,"title":null}}}},
    {"data":{"values":[{}]},"mark":{"type":"text","text":"VDD = −4 V","fontSize":14},"encoding":{"x":{"datum":-4.0,"axis":null},"y":{"datum":77,"axis":null}}},
    {"data":{"values":[{}]},"mark":{"type":"text","text":"Strain=0%","fontSize":13},"encoding":{"x":{"datum":-3.65,"axis":null},"y":{"datum":24.6,"axis":null}}}
   ]},
  {"width":184,"height":152,"title":{"text":"e","dx":-55},
   "resolve":{"axis":{"x":"independent","y":"independent"}},
   "layer":[
    {"data":{"name":"bot"},"transform":[{"filter":"datum.p=='e'"}],"mark":{"type":"line","color":"black","strokeWidth":1},
     "encoding":{"x":{"field":"x","type":"quantitative","scale":{"domain":[-8,-2],"nice":false,"zero":false},"axis":{"title":"Gate voltage (V)","values":[-8,-7,-6,-5,-4,-3,-2],"format":"d"}},
      "y":{"field":"y","type":"quantitative","scale":{"domain":[-6,90],"nice":false,"zero":false},"axis":{"title":"IOLED (μA)","values":[0,20,40,60,80]}}}},
    {"data":{"name":"bot"},"transform":[{"filter":"datum.p=='e'"}],"mark":{"type":"square","color":"black","size":10,"opacity":1},
     "encoding":{"x":{"field":"x","type":"quantitative","axis":{"orient":"bottom","values":[-7.5,-6.5,-5.5,-4.5,-3.5,-2.5],"labels":false,"domain":false,"tickSize":3,"title":null}},
      "y":{"field":"y","type":"quantitative","axis":{"orient":"left","values":[10,30,50,70],"labels":false,"domain":false,"tickSize":3,"title":null}}}},
    {"data":{"values":[{}]},"mark":{"type":"text","text":"VDD = −4 V","fontSize":14},"encoding":{"x":{"datum":-3.78,"axis":null},"y":{"datum":77,"axis":null}}},
    {"data":{"values":[{}]},"mark":{"type":"text","text":"Strain=20%","fontSize":13},"encoding":{"x":{"datum":-4.1,"axis":null},"y":{"datum":23,"axis":null}}}
   ]},
  {"width":186,"height":152,"title":{"text":"f","dx":-51},
   "resolve":{"axis":{"x":"independent","y":"independent"}},
   "layer":[
    {"data":{"name":"bot"},"transform":[{"filter":"datum.p=='f'"}],"mark":{"type":"line","color":"black","strokeWidth":1},
     "encoding":{"x":{"field":"x","type":"quantitative","scale":{"domain":[-8,-2],"nice":false,"zero":false},"axis":{"title":"Gate voltage (V)","values":[-8,-7,-6,-5,-4,-3,-2],"format":"d"}},
      "y":{"field":"y","type":"quantitative","scale":{"domain":[-6,90],"nice":false,"zero":false},"axis":{"title":"IOLED (μA)","values":[0,20,40,60,80]}}}},
    {"data":{"name":"bot"},"transform":[{"filter":"datum.p=='f'"}],"mark":{"type":"square","color":"black","size":10,"opacity":1},
     "encoding":{"x":{"field":"x","type":"quantitative","axis":{"orient":"bottom","values":[-7.5,-6.5,-5.5,-4.5,-3.5,-2.5],"labels":false,"domain":false,"tickSize":3,"title":null}},
      "y":{"field":"y","type":"quantitative","axis":{"orient":"left","values":[10,30,50,70],"labels":false,"domain":false,"tickSize":3,"title":null}}}},
    {"data":{"values":[{}]},"mark":{"type":"text","text":"VDD = −4 V","fontSize":14},"encoding":{"x":{"datum":-3.6,"axis":null},"y":{"datum":77,"axis":null}}},
    {"data":{"values":[{}]},"mark":{"type":"text","text":"Strain=30%","fontSize":13},"encoding":{"x":{"datum":-3.96,"axis":null},"y":{"datum":23,"axis":null}}}
   ]}
]
}
